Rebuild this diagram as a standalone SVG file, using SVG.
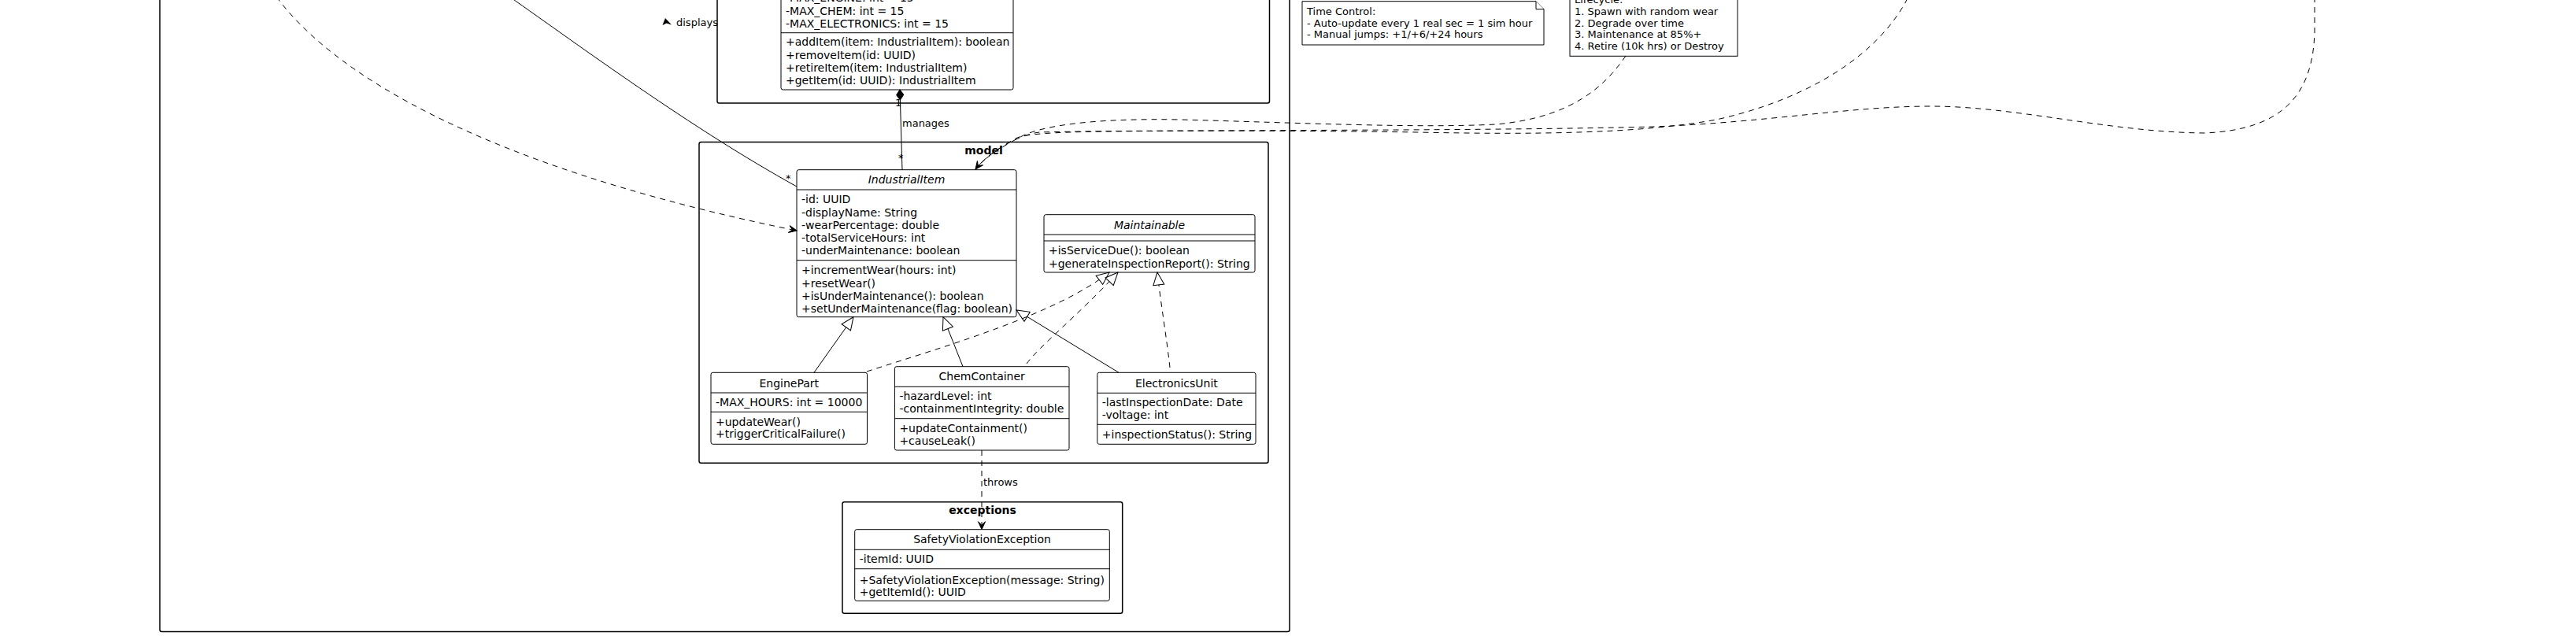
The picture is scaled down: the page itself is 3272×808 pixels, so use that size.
<svg xmlns="http://www.w3.org/2000/svg" width="3272" height="808" viewBox="0 0 3272 808">
<style>
text{font-family:"DejaVu Sans","Liberation Sans",sans-serif;fill:#000;}
.t14{font-size:14px;}
.t13{font-size:13px;}
.it{font-style:italic;}
.bold{font-weight:bold;}
.mid{text-anchor:middle;}
.pkg{fill:none;stroke:#000;stroke-width:1.5;}
.cls{fill:#fff;stroke:#000;stroke-width:1;}
.sep{stroke:#000;stroke-width:1;fill:none;}
.note{fill:#fff;stroke:#000;stroke-width:1;}
.ln{fill:none;stroke:#000;stroke-width:1;}
.dash{fill:none;stroke:#000;stroke-width:1;stroke-dasharray:7,6;}
</style>
<defs>
<marker id="arrowOpen" markerUnits="userSpaceOnUse" orient="auto" overflow="visible" markerWidth="12" markerHeight="12" refX="0" refY="0">
<path d="M0,0 L-10,-4.5 L-5.5,0 L-10,4.5 Z" fill="#000" stroke="#000" stroke-width="1"/>
</marker>
<marker id="triHollow" markerUnits="userSpaceOnUse" orient="auto" overflow="visible" markerWidth="20" markerHeight="20" refX="0" refY="0">
<path d="M0,0 L-16,-7 L-16,7 Z" fill="#fff" stroke="#000" stroke-width="1"/>
</marker>
<marker id="diamond" markerUnits="userSpaceOnUse" orient="auto" overflow="visible" markerWidth="16" markerHeight="16" refX="0" refY="0">
<path d="M0,0 L6.5,-4.5 L13,0 L6.5,4.5 Z" fill="#000" stroke="#000" stroke-width="1"/>
</marker>
</defs>

<rect width="3272" height="808" fill="#fff"/>

<!-- outer package -->
<g id="pkg-outer">
<rect class="pkg" x="203" y="-100" width="1435" height="902.5" rx="2.5"/>
</g>

<!-- controller package -->
<g id="pkg-controller">
<rect class="pkg" x="911" y="-100" width="701.5" height="231" rx="2.5"/>
</g>

<!-- manager class -->
<g id="class-manager">
<rect class="cls" x="992" y="-80" width="295" height="194" rx="2.5"/>
<line class="sep" x1="992" y1="41.7" x2="1287" y2="41.7"/>
<text class="t14" x="998" y="2.4">-MAX_ENGINE: int = 15</text>
<text class="t14" x="998" y="18.5">-MAX_CHEM: int = 15</text>
<text class="t14" x="998" y="34.6">-MAX_ELECTRONICS: int = 15</text>
<text class="t14" x="998" y="58.4">+addItem(item: IndustrialItem): boolean</text>
<text class="t14" x="998" y="74.6">+removeItem(id: UUID)</text>
<text class="t14" x="998" y="90.8">+retireItem(item: IndustrialItem)</text>
<text class="t14" x="998" y="107">+getItem(id: UUID): IndustrialItem</text>
</g>

<!-- model package -->
<g id="pkg-model">
<rect class="pkg" x="888" y="180.5" width="723" height="407.8" rx="2.5"/>
<text class="t14 bold mid" x="1249.5" y="195.8">model</text>
</g>

<g id="class-IndustrialItem">
<rect class="cls" x="1012" y="215.7" width="279" height="187" rx="2.5"/>
<text class="t14 it mid" x="1151.5" y="233.3">IndustrialItem</text>
<line class="sep" x1="1012" y1="241" x2="1291" y2="241"/>
<text class="t14" x="1018" y="258.3">-id: UUID</text>
<text class="t14" x="1018" y="274.6">-displayName: String</text>
<text class="t14" x="1018" y="290.9">-wearPercentage: double</text>
<text class="t14" x="1018" y="307.2">-totalServiceHours: int</text>
<text class="t14" x="1018" y="323.3">-underMaintenance: boolean</text>
<line class="sep" x1="1012" y1="330.7" x2="1291" y2="330.7"/>
<text class="t14" x="1018" y="348.3">+incrementWear(hours: int)</text>
<text class="t14" x="1018" y="364.5">+resetWear()</text>
<text class="t14" x="1018" y="380.7">+isUnderMaintenance(): boolean</text>
<text class="t14" x="1018" y="396.9">+setUnderMaintenance(flag: boolean)</text>
</g>

<g id="class-Maintainable">
<rect class="cls" x="1326" y="272.7" width="268" height="73.3" rx="2.5"/>
<text class="t14 it mid" x="1460" y="290.7">Maintainable</text>
<line class="sep" x1="1326" y1="298" x2="1594" y2="298"/>
<line class="sep" x1="1326" y1="306" x2="1594" y2="306"/>
<text class="t14" x="1332" y="323.3">+isServiceDue(): boolean</text>
<text class="t14" x="1332" y="339.8">+generateInspectionReport(): String</text>
</g>

<g id="class-EnginePart">
<rect class="cls" x="903" y="473.3" width="198.5" height="91" rx="2.5"/>
<text class="t14 mid" x="1002.3" y="491.7">EnginePart</text>
<line class="sep" x1="903" y1="499" x2="1101.5" y2="499"/>
<text class="t14" x="909" y="516">-MAX_HOURS: int = 10000</text>
<line class="sep" x1="903" y1="523.3" x2="1101.5" y2="523.3"/>
<text class="t14" x="909" y="541">+updateWear()</text>
<text class="t14" x="909" y="556.4">+triggerCriticalFailure()</text>
</g>

<g id="class-ChemContainer">
<rect class="cls" x="1136.4" y="465.7" width="221.6" height="106.3" rx="2.5"/>
<text class="t14 mid" x="1247.2" y="483.3">ChemContainer</text>
<line class="sep" x1="1136.4" y1="491.3" x2="1358" y2="491.3"/>
<text class="t14" x="1142.4" y="508.3">-hazardLevel: int</text>
<text class="t14" x="1142.4" y="524.3">-containmentIntegrity: double</text>
<line class="sep" x1="1136.4" y1="531.7" x2="1358" y2="531.7"/>
<text class="t14" x="1142.4" y="549">+updateContainment()</text>
<text class="t14" x="1142.4" y="565">+causeLeak()</text>
</g>

<g id="class-ElectronicsUnit">
<rect class="cls" x="1393.8" y="473.3" width="201.2" height="91" rx="2.5"/>
<text class="t14 mid" x="1494.4" y="491.7">ElectronicsUnit</text>
<line class="sep" x1="1393.8" y1="499.3" x2="1595" y2="499.3"/>
<text class="t14" x="1399.8" y="516">-lastInspectionDate: Date</text>
<text class="t14" x="1399.8" y="532.3">-voltage: int</text>
<line class="sep" x1="1393.8" y1="539.3" x2="1595" y2="539.3"/>
<text class="t14" x="1399.8" y="557.3">+inspectionStatus(): String</text>
</g>

<!-- exceptions package -->
<g id="pkg-exceptions">
<rect class="pkg" x="1070" y="637.7" width="355.7" height="141.6" rx="2.5"/>
<text class="t14 bold mid" x="1248" y="652.8">exceptions</text>
</g>

<g id="class-SafetyViolationException">
<rect class="cls" x="1085.7" y="672.7" width="323.6" height="90.6" rx="2.5"/>
<text class="t14 mid" x="1247.5" y="690.3">SafetyViolationException</text>
<line class="sep" x1="1085.7" y1="698.3" x2="1409.3" y2="698.3"/>
<text class="t14" x="1091.7" y="715">-itemId: UUID</text>
<line class="sep" x1="1085.7" y1="722.7" x2="1409.3" y2="722.7"/>
<text class="t14" x="1091.7" y="741.7">+SafetyViolationException(message: String)</text>
<text class="t14" x="1091.7" y="756.8">+getItemId(): UUID</text>
</g>

<!-- notes -->
<g id="note-time">
<path class="note" d="M1654,1.7 L1951,1.7 L1961,11.7 L1961,57 L1654,57 Z"/>
<path class="note" d="M1951,1.7 L1951,11.7 L1961,11.7"/>
<text class="t13" x="1660" y="18.7">Time Control:</text>
<text class="t13" x="1660" y="33.5">- Auto-update every 1 real sec = 1 sim hour</text>
<text class="t13" x="1660" y="48.2">- Manual jumps: +1/+6/+24 hours</text>
</g>

<g id="note-lifecycle">
<rect class="note" x="1994" y="-40" width="213" height="111.3"/>
<text class="t13" x="2000" y="4.3">Lifecycle:</text>
<text class="t13" x="2000" y="19">1. Spawn with random wear</text>
<text class="t13" x="2000" y="33.7">2. Degrade over time</text>
<text class="t13" x="2000" y="48.4">3. Maintenance at 85%+</text>
<text class="t13" x="2000" y="63.2">4. Retire (10k hrs) or Destroy</text>
</g>

<!-- connectors -->
<g id="connectors">
<path class="ln" d="M646,-5 C736,58 878,163 1012,237"/>
<path class="dash" d="M351,-4 C450,128 700,230 1012,293" marker-end="url(#arrowOpen)"/>
<path class="ln" d="M1143,114 L1146,215.7" marker-start="url(#diamond)"/>
<path class="dash" d="M1247,572 L1247,672.7" marker-end="url(#arrowOpen)"/>

<path class="ln" d="M1034,473.3 L1084,402.7" marker-end="url(#triHollow)"/>
<path class="ln" d="M1223,465.7 L1198,402.7" marker-end="url(#triHollow)"/>
<path class="ln" d="M1421,473.3 L1291,394" marker-end="url(#triHollow)"/>

<path class="dash" d="M1101,472 C1200,440 1340,400 1409,346" marker-end="url(#triHollow)"/>
<path class="dash" d="M1304,462 C1320,440 1370,400 1420,346" marker-end="url(#triHollow)"/>
<path class="dash" d="M1486,467 C1482,430 1475,390 1470,346" marker-end="url(#triHollow)"/>

<path class="dash" d="M2065,71 C2035,115 1990,150 1900,158 C1800,163 1650,156 1500,152 C1400,150 1330,158 1300,172 C1275,185 1250,200 1239,215"/>
<path class="dash" d="M2423,-2 C2380,80 2280,130 2180,152 C2080,170 1950,171 1800,168 C1600,165 1400,166 1320,168 C1290,172 1255,195 1239,215"/>
<path class="dash" d="M2940,-4 L2940,40 C2938,120 2900,165 2800,169 C2680,168 2560,135 2453,135 C2350,135 2250,155 2100,161 C1900,166 1600,165 1400,167 C1340,168 1300,170 1290,176 C1265,190 1248,203 1239,215" marker-end="url(#arrowOpen)"/>

<polygon points="845,23 841.5,32 846.5,29.5 853,31.5" fill="#000"/>
<text class="t13" x="859" y="32.5">displays</text>
<text class="t13" x="998" y="231">*</text>
<text class="t13" x="1137" y="135">1</text>
<text class="t13" x="1146" y="160.5">manages</text>
<text class="t13" x="1141" y="204.5">*</text>
<text class="t13" x="1249" y="617.4">throws</text>
</g>
</svg>
